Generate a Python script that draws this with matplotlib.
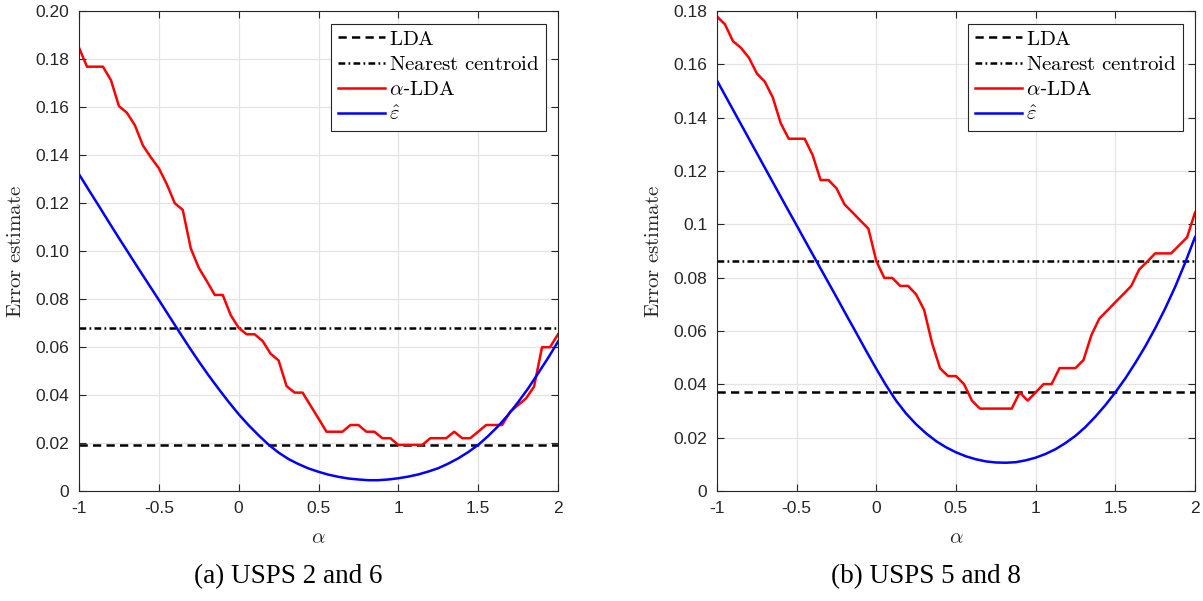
import numpy as np
import matplotlib
matplotlib.use("Agg")
import matplotlib.pyplot as plt

plt.rcParams['font.family'] = ['Liberation Sans', 'DejaVu Sans']
plt.rcParams['mathtext.fontset'] = 'cm'

# ---------------- data ----------------
alpha_grid = [-1.00, -0.95, -0.90, -0.85, -0.80, -0.75, -0.70, -0.65, -0.60, -0.55,
              -0.50, -0.45, -0.40, -0.35, -0.30, -0.25, -0.20, -0.15, -0.10, -0.05,
              0.00, 0.05, 0.10, 0.15, 0.20, 0.25, 0.30, 0.35, 0.40, 0.45,
              0.50, 0.55, 0.60, 0.65, 0.70, 0.75, 0.80, 0.85, 0.90, 0.95,
              1.00, 1.05, 1.10, 1.15, 1.20, 1.25, 1.30, 1.35, 1.40, 1.45,
              1.50, 1.55, 1.60, 1.65, 1.70, 1.75, 1.80, 1.85, 1.90, 1.95, 2.00]

# (a) USPS 2 and 6
alda_a = [0.1847, 0.1768, 0.1768, 0.1768, 0.1712, 0.1604, 0.1576, 0.1524, 0.1440, 0.1390,
          0.1345, 0.1278, 0.1199, 0.1171, 0.1011, 0.0930, 0.0875, 0.0817, 0.0817, 0.0733,
          0.0680, 0.0653, 0.0653, 0.0625, 0.0572, 0.0544, 0.0437, 0.0410, 0.0410, 0.0356,
          0.0302, 0.0247, 0.0247, 0.0247, 0.0275, 0.0275, 0.0247, 0.0247, 0.0220, 0.0220,
          0.0192, 0.0192, 0.0192, 0.0192, 0.0220, 0.0220, 0.0220, 0.0247, 0.0220, 0.0220,
          0.0247, 0.0275, 0.0275, 0.0275, 0.0330, 0.0358, 0.0386, 0.0435, 0.0599, 0.0599, 0.0653]
lda_a = 0.0192
nc_a = 0.0680

alpha_est = [-1.0, -0.9375, -0.875, -0.8125, -0.75, -0.6875, -0.625, -0.5625,
             -0.5, -0.4375, -0.375, -0.3125, -0.25, -0.1875, -0.125, -0.0625,
             0.0, 0.0625, 0.125, 0.1875, 0.25, 0.3125, 0.375, 0.4375,
             0.5, 0.5625, 0.625, 0.6875, 0.75, 0.8125, 0.875, 0.9375,
             1.0, 1.0625, 1.125, 1.1875, 1.25, 1.3125, 1.375, 1.4375,
             1.5, 1.5625, 1.625, 1.6875, 1.75, 1.8125, 1.875, 1.9375, 2.0]
est_a = [0.1320, 0.1253, 0.1187, 0.1120, 0.1054, 0.0989, 0.0924, 0.0860,
         0.0796, 0.0731, 0.0666, 0.0602, 0.0540, 0.0481, 0.0425, 0.0371,
         0.0320, 0.0274, 0.0232, 0.0193, 0.0160, 0.0133, 0.0112, 0.0094,
         0.0080, 0.0068, 0.0059, 0.0052, 0.0048, 0.0045, 0.0045, 0.0048,
         0.0053, 0.0060, 0.0069, 0.0081, 0.0095, 0.0114, 0.0136, 0.0162,
         0.0192, 0.0229, 0.0270, 0.0317, 0.0370, 0.0427, 0.0490, 0.0554, 0.0622]

# (b) USPS 5 and 8
alda_b = [0.1779, 0.1750, 0.1687, 0.1662, 0.1625, 0.1566, 0.1535, 0.1476, 0.1379, 0.1321,
          0.1321, 0.1321, 0.1260, 0.1166, 0.1166, 0.1135, 0.1075, 0.1045, 0.1014, 0.0984,
          0.0862, 0.0799, 0.0799, 0.0769, 0.0769, 0.0737, 0.0679, 0.0554, 0.0460, 0.0431,
          0.0431, 0.0401, 0.0339, 0.0309, 0.0309, 0.0309, 0.0309, 0.0309, 0.0370, 0.0339,
          0.0370, 0.0401, 0.0401, 0.0461, 0.0461, 0.0461, 0.0491, 0.0585, 0.0647, 0.0677,
          0.0708, 0.0738, 0.0769, 0.0831, 0.0860, 0.0891, 0.0891, 0.0891, 0.0921, 0.0951, 0.1044]
lda_b = 0.0370
nc_b = 0.0861
est_b = [0.1539, 0.1471, 0.1403, 0.1335, 0.1267, 0.1199, 0.1131, 0.1063,
         0.0996, 0.0928, 0.0861, 0.0794, 0.0727, 0.0659, 0.0592, 0.0524,
         0.0458, 0.0395, 0.0338, 0.0290, 0.0250, 0.0216, 0.0187, 0.0164,
         0.0145, 0.0130, 0.0119, 0.0111, 0.0107, 0.0106, 0.0108, 0.0115,
         0.0125, 0.0139, 0.0157, 0.0180, 0.0207, 0.0240, 0.0279, 0.0322,
         0.0370, 0.0422, 0.0480, 0.0542, 0.0610, 0.0684, 0.0765, 0.0855, 0.0952]

xticks = [-1, -0.5, 0, 0.5, 1, 1.5, 2]
xtick_labels = ['-1', '-0.5', '0', '0.5', '1', '1.5', '2']
yticks_a = [0, 0.02, 0.04, 0.06, 0.08, 0.10, 0.12, 0.14, 0.16, 0.18, 0.20]
ytick_labels_a = ['0', '0.02', '0.04', '0.06', '0.08', '0.10', '0.12', '0.14', '0.16', '0.18', '0.20']
yticks_b = [0, 0.02, 0.04, 0.06, 0.08, 0.10, 0.12, 0.14, 0.16, 0.18]
ytick_labels_b = ['0', '0.02', '0.04', '0.06', '0.08', '0.1', '0.12', '0.14', '0.16', '0.18']

legend_labels = [r'$\mathrm{LDA}$', r'$\mathrm{Nearest\ centroid}$',
                 r'$\alpha$-$\mathrm{LDA}$', r'$\hat{\varepsilon}$']
captions = ['(a) USPS 2 and 6', '(b) USPS 5 and 8']

# ---------------- figure ----------------
W, H = 1203, 601
fig = plt.figure(figsize=(W / 100, H / 100), dpi=100)
ax1 = fig.add_axes([79 / W, 110 / H, 479 / W, 480 / H])
ax2 = fig.add_axes([717 / W, 110 / H, 478 / W, 480 / H])

AXC = '#262626'
LW = 1.8
dash = (0, (3.3, 2.1))
dashdot = (0, (2.7, 1.3, 0.7, 1.3))


def draw(ax, alda, est, lda, nc, yticks, ylabels, ymax):
    l1 = ax.axhline(lda, color='black', lw=LW, linestyle=dash)
    l2 = ax.axhline(nc, color='black', lw=LW, linestyle=dashdot)
    l3, = ax.plot(alpha_grid, alda, color='#ff0000', lw=LW)
    l4, = ax.plot(alpha_est, est, color='#0000ff', lw=LW)
    ax.set_xlim(-1, 2)
    ax.set_ylim(0, ymax)
    ax.set_xticks(xticks)
    ax.set_xticklabels(xtick_labels)
    ax.set_yticks(yticks)
    ax.set_yticklabels(ylabels)
    ax.grid(True, color='#e4e4e4', lw=0.9)
    ax.set_axisbelow(True)
    ax.tick_params(direction='in', top=True, right=True, length=5, width=0.8,
                   colors=AXC, labelsize=12.5, pad=7)
    for s in ax.spines.values():
        s.set_color(AXC)
        s.set_linewidth(0.8)
    ax.set_ylabel(r'$\mathrm{Error\ estimate}$', fontsize=15, color=AXC)
    ax.yaxis.set_label_coords(-0.113, 0.5)
    ax.set_xlabel(r'$\alpha$', fontsize=15, color=AXC)
    ax.xaxis.set_label_coords(0.5, -0.077)
    leg = ax.legend([l1, l2, l3, l4], legend_labels, loc='upper right',
                    fontsize=15, frameon=True, fancybox=False, framealpha=1,
                    edgecolor=AXC, handlelength=2.3, handletextpad=0.15,
                    borderpad=0.3, labelspacing=0.3, borderaxespad=0.6)
    leg.get_frame().set_linewidth(0.8)


draw(ax1, alda_a, est_a, lda_a, nc_a, yticks_a, ytick_labels_a, 0.20)
draw(ax2, alda_b, est_b, lda_b, nc_b, yticks_b, ytick_labels_b, 0.18)

fig.text(288 / W, 1 - 577 / H, captions[0], ha='center', va='center',
         family='Liberation Serif', fontsize=19.5, color='black')
fig.text(926 / W, 1 - 577 / H, captions[1], ha='center', va='center',
         family='Liberation Serif', fontsize=19.5, color='black')

fig.savefig('out.png', dpi=100)
